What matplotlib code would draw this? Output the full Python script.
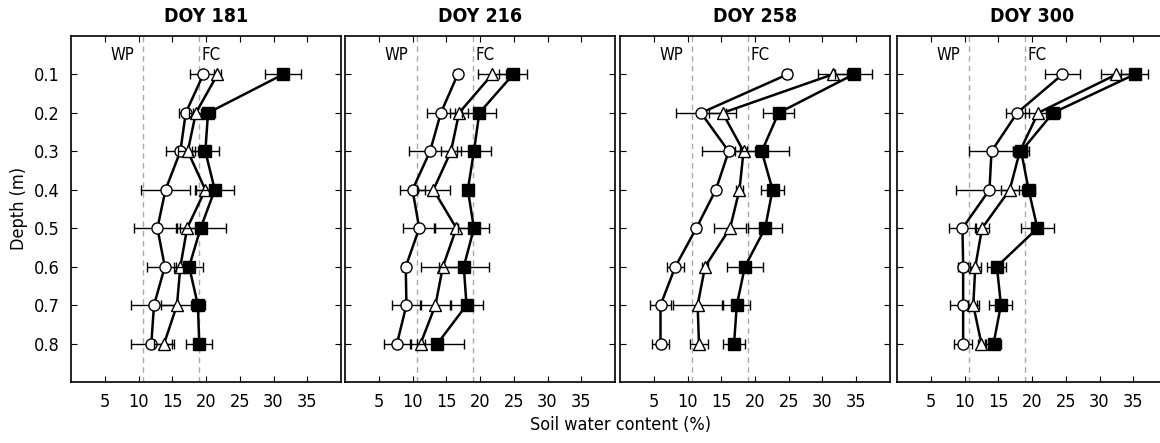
import matplotlib
matplotlib.use('Agg')
import matplotlib.pyplot as plt
from matplotlib import font_manager
import numpy as np

# condensed sans, like the original figure
names = set(f.name for f in font_manager.fontManager.ttflist)
if 'Liberation Sans Narrow' in names:
    plt.rcParams['font.family'] = ['Liberation Sans Narrow', 'DejaVu Sans']
else:
    plt.rcParams['font.family'] = ['DejaVu Sans']
    plt.rcParams['font.stretch'] = 'condensed'

depth = [0.1, 0.2, 0.3, 0.4, 0.5, 0.6, 0.7, 0.8]
doy_labels = ['DOY 181', 'DOY 216', 'DOY 258', 'DOY 300']
wp = 10.6
fc = 19.0

# open circles
circ = [
    [19.6, 17.0, 16.2, 14.0, 12.8, 13.9, 12.3, 11.9],
    [16.7, 14.2, 12.6, 10.0, 11.0, 9.0, 9.1, 7.7],
    [24.8, 12.0, 16.1, 14.2, 11.3, 8.2, 6.0, 6.0],
    [24.5, 17.8, 14.0, 13.7, 9.7, 9.8, 9.8, 9.8],
]
circ_err = [
    [2.0, 1.0, 2.2, 3.6, 3.4, 2.7, 3.4, 3.0],
    [0.5, 2.1, 3.1, 1.9, 2.4, 0.5, 2.2, 1.9],
    [0.5, 3.7, 3.9, 0.5, 0.5, 1.3, 1.5, 1.2],
    [2.6, 1.7, 3.3, 4.9, 2.0, 0.7, 2.0, 1.3],
]
# open triangles
tri = [
    [21.7, 18.5, 17.3, 19.9, 17.2, 16.2, 15.7, 13.8],
    [21.8, 16.9, 15.7, 13.1, 16.5, 14.5, 13.4, 11.2],
    [31.5, 15.2, 18.3, 17.7, 16.3, 12.6, 11.5, 11.7],
    [32.5, 20.9, 18.2, 16.7, 12.6, 11.6, 11.3, 12.5],
]
tri_err = [
    [0.5, 1.0, 1.5, 1.5, 1.5, 1.0, 2.3, 1.5],
    [2.1, 1.3, 1.5, 2.4, 3.3, 3.3, 2.3, 0.6],
    [2.2, 2.0, 0.5, 0.5, 2.4, 0.4, 3.6, 1.4],
    [2.3, 2.0, 1.0, 1.3, 1.1, 0.8, 0.8, 0.5],
]
# filled squares
sq = [
    [31.4, 20.3, 19.9, 21.3, 19.2, 17.5, 18.8, 19.0],
    [24.9, 19.9, 19.1, 18.2, 19.1, 17.6, 18.0, 13.7],
    [34.6, 23.5, 21.0, 22.6, 21.5, 18.5, 17.3, 16.9],
    [35.2, 23.1, 18.4, 19.5, 20.8, 14.8, 15.4, 14.3],
]
sq_err = [
    [2.6, 1.0, 2.0, 2.8, 3.7, 2.0, 1.0, 1.9],
    [2.1, 2.5, 2.5, 0.5, 2.3, 3.7, 2.4, 3.9],
    [2.8, 2.3, 4.0, 1.7, 2.5, 2.7, 2.0, 1.6],
    [2.0, 1.0, 1.2, 1.0, 2.5, 1.4, 1.7, 1.1],
]

W, H = 1160, 443
fig = plt.figure(figsize=(W / 100, H / 100), dpi=100)
lefts = [71, 345, 620, 897]
pw, ph, pb = 270, 346, 61

for i in range(4):
    ax = fig.add_axes([lefts[i] / W, pb / H, pw / W, ph / H])
    ax.axvline(wp, color='#aaaaaa', ls='--', lw=1, dashes=(4, 3), zorder=1)
    ax.axvline(fc, color='#aaaaaa', ls='--', lw=1, dashes=(4, 3), zorder=1)
    ax.text(wp - 1.2, 0.05, 'WP', ha='right', va='center', fontsize=12)
    ax.text(fc + 0.4, 0.05, 'FC', ha='left', va='center', fontsize=12)

    common = dict(color='black', lw=1.8, elinewidth=1, capsize=3.5, capthick=1,
                  markeredgecolor='black', markeredgewidth=1)
    ax.errorbar(circ[i], depth, xerr=circ_err[i], fmt='-o', ms=8,
                markerfacecolor='white', zorder=3, **common)
    ax.errorbar(tri[i], depth, xerr=tri_err[i], fmt='-^', ms=8.5,
                markerfacecolor='white', zorder=4, **common)
    ax.errorbar(sq[i], depth, xerr=sq_err[i], fmt='-s', ms=8,
                markerfacecolor='black', zorder=5, **common)

    ax.set_xlim(0, 40)
    ax.set_ylim(0.9, 0)
    ax.set_xticks([5, 10, 15, 20, 25, 30, 35])
    ax.set_yticks(depth)
    ax.tick_params(direction='in', top=True, right=True, length=4,
                   labelsize=13, pad=8)
    if i > 0:
        ax.set_yticklabels([])
    else:
        ax.set_ylabel('Depth (m)', fontsize=13)
    ax.set_title(doy_labels[i], fontsize=14, fontweight='bold', pad=10)
    for s in ax.spines.values():
        s.set_linewidth(1.2)

fig.text(620 / W, 1 - 425 / H, 'Soil water content (%)', ha='center', va='center',
         fontsize=13)

fig.savefig('out.png', dpi=100)
